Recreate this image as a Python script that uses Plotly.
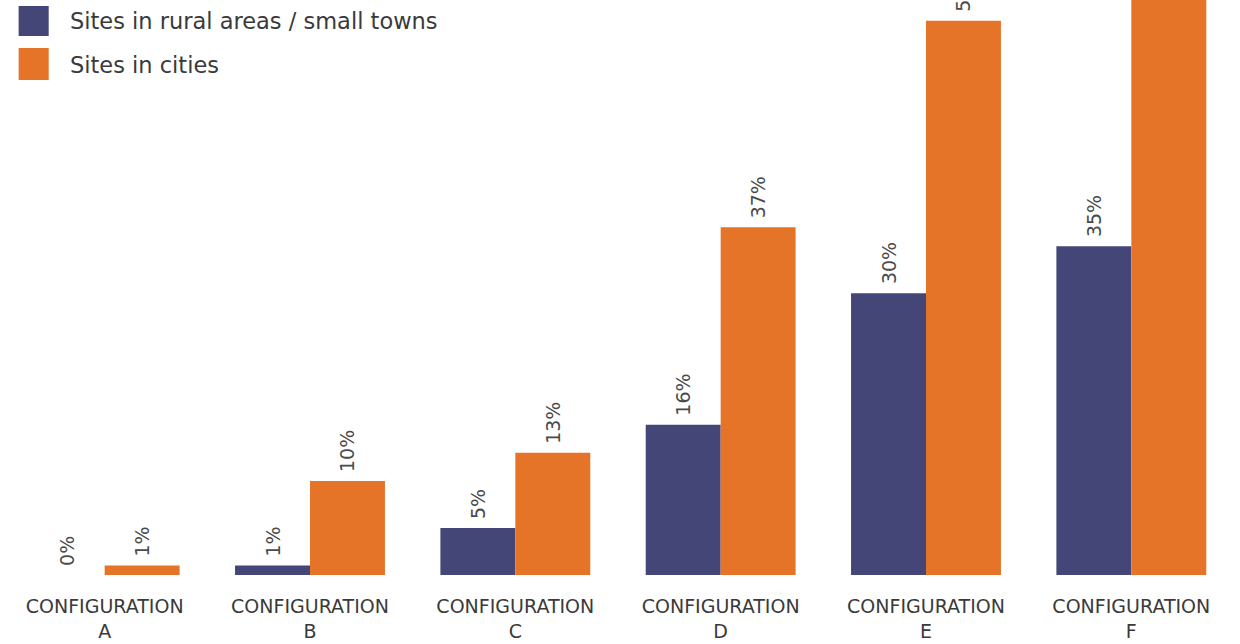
import plotly.graph_objects as go

categories = ["A", "B", "C", "D", "E", "F"]
tick_labels = ["CONFIGURATION<br>" + c for c in categories]
rural_values = [0, 1, 5, 16, 30, 35]
city_values = [1, 10, 13, 37, 59, 66]
series_names = ["Sites in rural areas / small towns", "Sites in cities"]
colors = ["#434677", "#E57429"]

FONT = "DejaVu Sans"
TEXT_COLOR = "#3a3a3a"

fig = go.Figure()
for name, vals, col in zip(series_names, [rural_values, city_values], colors):
    fig.add_trace(go.Bar(
        x=categories, y=vals, name=name,
        marker=dict(color=col, line=dict(width=0)),
        text=["\u00a0" + f"{v}%" for v in vals],
        textposition="outside", textangle=-90,
        textfont=dict(family=FONT, size=19, color="#4a4a4a"),
        cliponaxis=False, showlegend=False,
    ))

# legend drawn as squares + text
legend_rows = [(0.9896, 0.9374, 0.9635), (0.9165, 0.8609, 0.887)]
for (y1, y0, yc), name, col in zip(legend_rows, series_names, colors):
    fig.add_shape(type="rect", xref="paper", yref="paper",
                  x0=0.0135, x1=0.0379, y0=y0, y1=y1,
                  fillcolor=col, line=dict(width=0))
    fig.add_annotation(xref="paper", yref="paper", x=0.0533, y=yc,
                       xanchor="left", yanchor="middle", showarrow=False,
                       text=name, font=dict(family=FONT, size=22.5, color=TEXT_COLOR))

fig.update_layout(
    width=1240, height=644,
    margin=dict(l=2, r=6, t=0, b=69),
    paper_bgcolor="white", plot_bgcolor="white",
    barmode="group", bargap=0.27, bargroupgap=0,
    font=dict(family=FONT, color=TEXT_COLOR),
)
fig.update_xaxes(
    tickmode="array", tickvals=categories, ticktext=tick_labels,
    tickfont=dict(family=FONT, size=19, color=TEXT_COLOR),
    ticks="", showline=False, showgrid=False, zeroline=False,
    ticklabelstandoff=18, automargin=False,
)
fig.update_yaxes(range=[0, 61.2], visible=False, showgrid=False, zeroline=False,
                 automargin=False)

fig.write_html("out.html")
